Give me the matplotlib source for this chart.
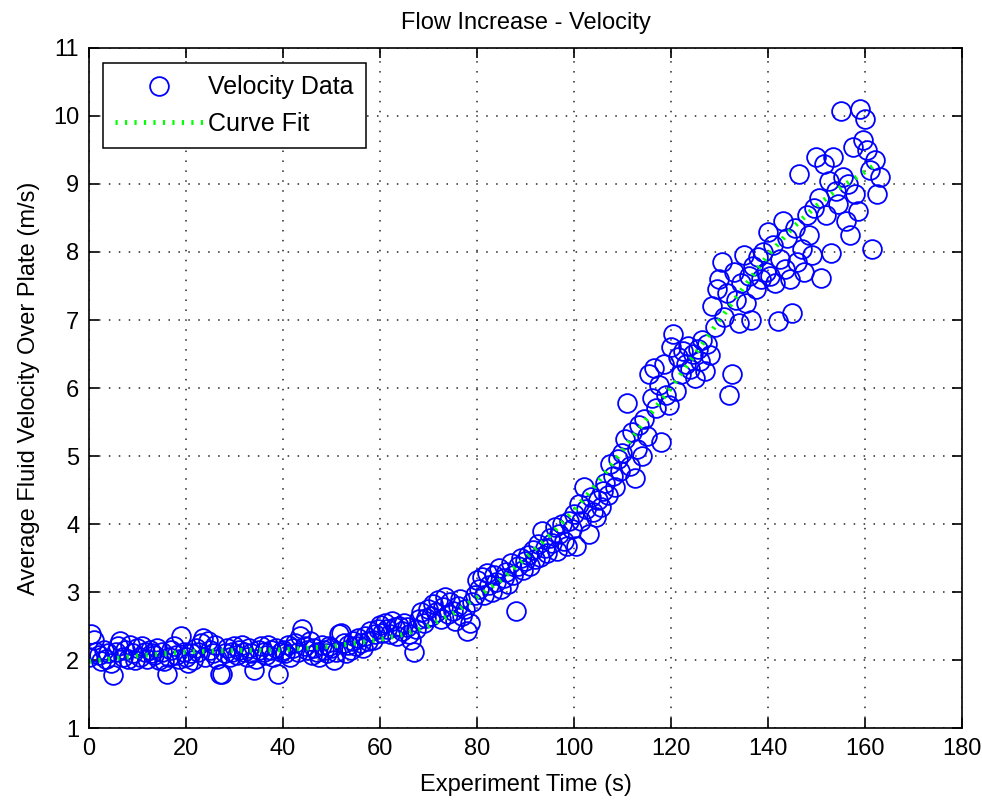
"""Flow increase - velocity scatter with curve fit"""

import numpy as np
import matplotlib
matplotlib.use("Agg")
import matplotlib.pyplot as plt

plt.rcParams["font.family"] = ["Liberation Sans", "DejaVu Sans"]

# sample times (s), one reading every half second
t_start, t_step, t_stop = 0.0, 0.5, 163.0
time = np.arange(t_start, t_stop + t_step / 2, t_step)

velocity = [
    # 0 - 9.5
    2.05, 2.38, 2.30, 2.12, 2.08, 1.98, 2.15, 2.02, 2.10, 1.95,
    1.78, 2.12, 2.20, 2.28, 2.05, 2.15, 2.02, 2.22, 2.10, 2.00,
    # 10 - 19.5
    2.18, 2.05, 2.20, 2.12, 2.02, 2.15, 2.10, 2.08, 2.18, 2.00,
    2.12, 1.98, 1.80, 2.05, 2.15, 2.20, 2.08, 2.02, 2.35, 2.12,
    # 20 - 29.5
    2.05, 1.95, 2.10, 2.00, 2.18, 2.12, 2.25, 2.32, 2.05, 2.28,
    2.15, 2.10, 2.22, 2.02, 1.80, 1.80, 2.10, 2.18, 2.05, 2.12,
    # 30 - 39.5
    2.20, 2.08, 2.15, 2.22, 2.12, 2.05, 2.18, 2.10, 1.85, 2.02,
    2.15, 2.20, 2.12, 2.08, 2.22, 2.15, 2.05, 2.18, 1.80, 2.12,
    # 40 - 49.5
    2.15, 2.10, 2.22, 2.05, 2.18, 2.25, 2.12, 2.35, 2.45, 2.20,
    2.15, 2.28, 2.08, 2.18, 2.12, 2.05, 2.22, 2.15, 2.10, 2.20,
    # 50 - 59.5
    2.18, 2.00, 2.12, 2.38, 2.40, 2.25, 2.10, 2.22, 2.15, 2.28,
    2.20, 2.32, 2.25, 2.18, 2.35, 2.28, 2.42, 2.30, 2.38, 2.45,
    # 60 - 69.5
    2.52, 2.40, 2.55, 2.45, 2.38, 2.58, 2.48, 2.35, 2.50, 2.42,
    2.55, 2.48, 2.38, 2.30, 2.12, 2.45, 2.60, 2.70, 2.55, 2.62,
    # 70 - 79.5
    2.75, 2.65, 2.82, 2.70, 2.88, 2.60, 2.78, 2.92, 2.68, 2.85,
    2.72, 2.58, 2.80, 2.90, 2.65, 2.75, 2.42, 2.55, 2.85, 2.95,
    # 80 - 89.5
    3.18, 3.05, 3.22, 2.95, 3.28, 3.10, 3.00, 3.25, 3.15, 3.35,
    3.05, 3.20, 3.30, 3.12, 3.42, 3.25, 2.72, 3.38, 3.50, 3.32,
    # 90 - 99.5
    3.45, 3.55, 3.38, 3.62, 3.48, 3.70, 3.52, 3.90, 3.65, 3.58,
    3.80, 3.72, 3.95, 3.60, 3.85, 4.00, 3.75, 3.68, 4.05, 3.92,
    # 100 - 109.5
    4.15, 3.68, 4.30, 4.05, 4.55, 4.22, 3.85, 4.40, 4.18, 4.10,
    4.35, 4.25, 4.48, 4.60, 4.42, 4.88, 4.70, 4.55, 4.95, 4.78,
    # 110 - 119.5
    5.05, 5.25, 5.78, 4.85, 5.35, 4.68, 5.10, 5.45, 5.00, 5.55,
    5.30, 6.20, 5.85, 6.30, 5.70, 6.05, 5.20, 6.35, 5.90, 5.75,
    # 120 - 129.5
    6.60, 6.80, 5.95, 6.45, 6.20, 6.55, 6.35, 6.62, 6.28, 6.50,
    6.15, 6.58, 6.40, 6.70, 6.25, 6.65, 6.48, 7.20, 6.90, 7.45,
    # 130 - 139.5
    7.60, 7.85, 7.05, 7.40, 5.90, 6.20, 7.70, 7.30, 6.95, 7.55,
    7.95, 7.25, 7.65, 7.00, 7.80, 7.45, 7.92, 7.60, 8.00, 7.70,
    # 140 - 149.5
    8.30, 7.65, 8.10, 7.55, 6.98, 7.90, 8.45, 7.75, 8.20, 7.60,
    7.10, 8.35, 7.85, 9.15, 8.05, 7.70, 8.55, 8.25, 7.95, 8.65,
    # 150 - 159.5
    9.40, 8.80, 7.62, 9.30, 8.55, 9.05, 7.98, 9.40, 8.90, 8.70,
    10.08, 9.10, 8.45, 9.00, 8.25, 9.55, 8.85, 8.60, 10.10, 9.65,
    # 160 - 163
    9.95, 9.50, 9.20, 8.05, 9.35, 8.85, 9.10,
]

# curve fit
fit_time = [0, 10, 20, 30, 40, 50, 60, 65, 70, 75, 80, 85, 90, 95, 100,
            105, 110, 115, 120, 125, 130, 135, 140, 145, 150, 155, 160, 162]
fit_velocity = [1.98, 2.06, 2.12, 2.14, 2.15, 2.20, 2.30, 2.38, 2.50, 2.68,
                2.92, 3.18, 3.50, 3.83, 4.20, 4.62, 5.08, 5.55, 6.00, 6.50,
                7.00, 7.48, 7.95, 8.35, 8.68, 8.95, 9.18, 9.28]

x_ticks = list(range(0, 181, 20))
y_ticks = list(range(1, 12))

fig = plt.figure(figsize=(9.82, 8.08), dpi=100)
ax = fig.add_axes([0.0906, 0.099, 0.889, 0.8416])

ax.plot(time, velocity, "o", ms=13.5, mfc="none", mec="#0000ff",
        mew=1.3, label="Velocity Data")
ax.plot(fit_time, fit_velocity, color="#00ff00", lw=3.5,
        ls=(0, (0.45, 1.5)), label="Curve Fit")

ax.set_xlim(0, 180)
ax.set_ylim(1, 11)
ax.set_xticks(x_ticks)
ax.set_yticks(y_ticks)

# matlab-ish box: ticks inside on all four sides, dotted grid
ax.tick_params(direction="in", top=True, right=True, length=7, width=1.2,
               labelsize=17, pad=7)
for sp in ax.spines.values():
    sp.set_linewidth(1.2)
ax.grid(True, color="0.15", lw=1.1, ls=(0, (1, 5.5)))
ax.set_axisbelow(True)

ax.set_title("Flow Increase - Velocity", fontsize=17, pad=14)
ax.set_xlabel("Experiment Time (s)", fontsize=17, labelpad=10)
ax.set_ylabel("Average Fluid Velocity Over Plate (m/s)", fontsize=17,
              labelpad=9)

leg = ax.legend(loc="upper left", bbox_to_anchor=(0.016, 0.978),
                borderaxespad=0, fontsize=18, fancybox=False,
                framealpha=1, edgecolor="black", handlelength=3.5,
                handletextpad=0.2, borderpad=0.5, labelspacing=0.5)
leg.get_frame().set_linewidth(1.1)

fig.savefig("out.png", dpi=100)
